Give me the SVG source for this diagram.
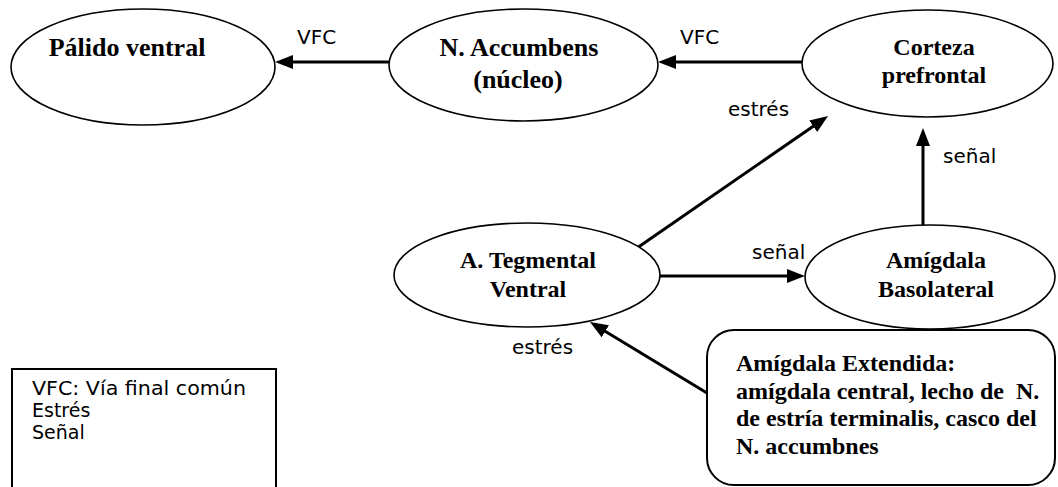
<svg xmlns="http://www.w3.org/2000/svg" width="1058" height="487" viewBox="0 0 1058 487">
<style>
.node ellipse{fill:#fff;stroke:#000;stroke-width:1.6}
.nt{font-family:"Liberation Serif","Times New Roman",serif;font-weight:bold;font-size:24px;fill:#000;text-anchor:middle}
.bt{font-family:"Liberation Serif","Times New Roman",serif;font-weight:bold;font-size:24px;fill:#000;white-space:pre}
.lbl{font-family:"DejaVu Sans",Verdana,sans-serif;font-size:20px;fill:#000}
.leg{font-family:"DejaVu Sans",Verdana,sans-serif;font-size:19px;fill:#000}
.conn line{stroke:#000;stroke-width:3;fill:none}
</style>
<defs>
<marker id="ah" markerUnits="userSpaceOnUse" markerWidth="18" markerHeight="14" refX="8" refY="7" orient="auto" viewBox="0 0 18 14">
<path d="M0,0 L18,7 L0,14 z" fill="#000"/>
</marker>
</defs>
<rect width="1058" height="487" fill="#fff"/>
<g id="connectors" class="conn">
<line x1="389" y1="62" x2="285" y2="62" marker-end="url(#ah)"/>
<line x1="802" y1="62" x2="668" y2="62" marker-end="url(#ah)"/>
<line x1="637" y1="248" x2="819.8" y2="121.7" marker-end="url(#ah)"/>
<line x1="923" y1="227" x2="923" y2="138" marker-end="url(#ah)"/>
<line x1="660" y1="276" x2="795" y2="276" marker-end="url(#ah)"/>
<line x1="707" y1="393" x2="598.5" y2="327.2" marker-end="url(#ah)"/>
</g>
<g id="labels">
<text class="lbl" x="297" y="44">VFC</text>
<text class="lbl" x="680" y="44">VFC</text>
<text class="lbl" x="728" y="116">estrés</text>
<text class="lbl" x="943" y="163">señal</text>
<text class="lbl" x="752" y="259">señal</text>
<text class="lbl" x="512" y="354">estrés</text>
</g>
<g id="palido" class="node">
<ellipse cx="143" cy="67" rx="132" ry="58"/>
<text class="nt" x="127" y="56" style="font-size:26px">Pálido ventral</text>
</g>
<g id="accumbens" class="node">
<ellipse cx="523.5" cy="65" rx="134.5" ry="56"/>
<text class="nt" x="519" y="56" style="font-size:26px">N. Accumbens</text>
<text class="nt" x="518" y="88" style="font-size:26px">(núcleo)</text>
</g>
<g id="corteza" class="node">
<ellipse cx="927.5" cy="63.5" rx="125.5" ry="53.5"/>
<text class="nt" x="934" y="55">Corteza</text>
<text class="nt" x="934" y="83">prefrontal</text>
</g>
<g id="tegmental" class="node">
<ellipse cx="527" cy="275" rx="133" ry="52"/>
<text class="nt" x="528" y="268">A. Tegmental</text>
<text class="nt" x="528" y="297">Ventral</text>
</g>
<g id="basolateral" class="node">
<ellipse cx="930" cy="277" rx="125" ry="52"/>
<text class="nt" x="936" y="268">Amígdala</text>
<text class="nt" x="936" y="297">Basolateral</text>
</g>
<g id="extendida">
<rect x="707" y="330" width="348" height="155" rx="27" ry="27" fill="#fff" stroke="#000" stroke-width="2"/>
<text class="bt" x="736" y="371">Amígdala Extendida:</text>
<text class="bt" x="736" y="399">amígdala central, lecho de  N.</text>
<text class="bt" x="736" y="426">de estría terminalis, casco del</text>
<text class="bt" x="736" y="454">N. accumbnes</text>
</g>
<g id="legend">
<rect x="12" y="369" width="264" height="130" fill="#fff" stroke="#000" stroke-width="2"/>
<text class="leg" x="32" y="395" textLength="214" lengthAdjust="spacingAndGlyphs">VFC: Vía final común</text>
<text class="leg" x="32" y="417">Estrés</text>
<text class="leg" x="32" y="439">Señal</text>
</g>
</svg>
